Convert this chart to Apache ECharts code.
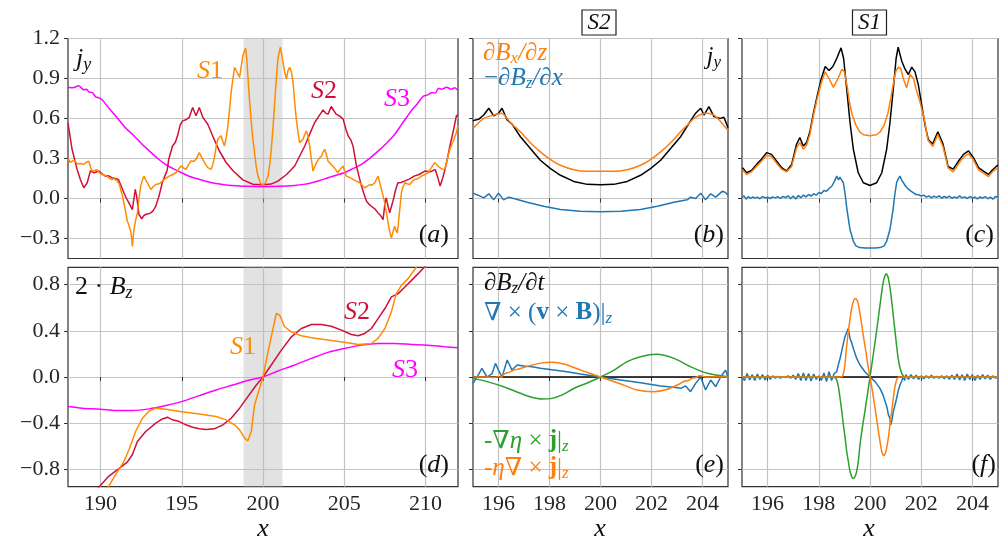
<!DOCTYPE html>
<html><head><meta charset="utf-8">
<script src="https://cdn.jsdelivr.net/npm/echarts@6/dist/echarts.min.js"></script>
<style>html,body{margin:0;padding:0;background:#fff}#c{width:1004px;height:542px}</style>
</head><body><div id="c"></div>
<script>
// ---------- tick values ----------
const xTicksLeft = [190, 195, 200, 205, 210];
const xTicksZoom = [196, 198, 200, 202, 204];
const yTicksTop = [-0.3, 0, 0.3, 0.6, 0.9, 1.2];
const yTicksBot = [-0.8, -0.4, 0, 0.4, 0.8];
const band = [198.8, 201.2];

// ---------- panel (a): j_y ----------
const aS3 = [[188,0.834],[188.3,0.83],[188.66,0.845],[188.97,0.815],[189.15,0.82],[189.28,0.80],[189.5,0.795],[189.7,0.762],[189.9,0.755],[190.1,0.74],[190.5,0.68],[191.1,0.595],[191.5,0.535],[191.96,0.482],[192.5,0.415],[193,0.357],[193.5,0.302],[194,0.256],[194.5,0.222],[195,0.193],[195.5,0.165],[196.1,0.143],[196.6,0.126],[197.1,0.113],[197.6,0.104],[198.1,0.098],[199,0.091],[200,0.088],[201,0.091],[201.95,0.098],[202.5,0.106],[203,0.118],[203.5,0.135],[204,0.156],[204.5,0.175],[205,0.193],[205.5,0.222],[206.06,0.256],[206.6,0.305],[207.1,0.357],[207.6,0.415],[208.1,0.48],[208.5,0.55],[208.9,0.62],[209.2,0.67],[209.5,0.71],[209.7,0.745],[209.9,0.77],[210.1,0.775],[210.4,0.795],[210.6,0.79],[210.8,0.826],[211.0,0.82],[211.3,0.834],[211.6,0.82],[211.8,0.83],[212,0.81]];
const aS2 = [[188,0.565],[188.25,0.369],[188.56,0.218],[188.76,0.143],[188.97,0.08],[189.18,0.118],[189.38,0.206],[189.6,0.193],[189.9,0.206],[190.1,0.185],[190.3,0.168],[190.5,0.17],[190.7,0.156],[190.9,0.15],[191.1,0.143],[191.25,0.1],[191.44,0.043],[191.6,0.0],[191.75,-0.033],[191.96,-0.083],[192.06,0.0],[192.14,0.068],[192.22,0.02],[192.37,-0.12],[192.54,-0.153],[192.65,-0.13],[192.78,-0.12],[192.95,-0.115],[193.1,-0.108],[193.25,-0.09],[193.4,-0.058],[193.6,0.018],[193.8,0.118],[194.0,0.181],[194.1,0.21],[194.2,0.294],[194.3,0.3],[194.43,0.394],[194.6,0.42],[194.74,0.47],[194.9,0.55],[195.05,0.582],[195.25,0.59],[195.46,0.608],[195.67,0.683],[195.88,0.62],[196.08,0.683],[196.3,0.608],[196.6,0.557],[196.9,0.47],[197.3,0.36],[197.73,0.27],[198.14,0.21],[198.76,0.14],[199.38,0.107],[200,0.103],[200.5,0.108],[200.92,0.13],[201.45,0.18],[201.95,0.244],[202.57,0.394],[202.9,0.49],[203.18,0.57],[203.45,0.62],[203.7,0.665],[203.85,0.64],[204,0.633],[204.2,0.69],[204.35,0.66],[204.5,0.633],[204.7,0.62],[204.93,0.595],[205.1,0.52],[205.24,0.47],[205.4,0.44],[205.54,0.394],[205.75,0.244],[205.9,0.17],[206.06,0.093],[206.2,0.04],[206.37,-0.02],[206.5,-0.04],[206.67,-0.058],[206.9,-0.08],[207.08,-0.108],[207.25,-0.13],[207.39,-0.158],[207.5,-0.04],[207.58,0.005],[207.7,-0.06],[207.8,-0.108],[207.9,-0.06],[208,-0.02],[208.15,0.06],[208.3,0.118],[208.5,0.12],[208.7,0.13],[209,0.145],[209.3,0.168],[209.6,0.18],[209.96,0.206],[210.3,0.2],[210.6,0.218],[210.75,0.16],[210.9,0.093],[211.05,0.15],[211.2,0.218],[211.35,0.3],[211.5,0.394],[211.7,0.5],[211.9,0.62],[212,0.63]];
const aS1 = [[188,0.3],[188.15,0.27],[188.3,0.285],[188.45,0.281],[188.55,0.26],[188.66,0.256],[188.8,0.262],[188.97,0.256],[189.1,0.27],[189.28,0.28],[189.4,0.23],[189.48,0.206],[189.6,0.22],[189.79,0.215],[189.95,0.19],[190.1,0.18],[190.25,0.175],[190.41,0.168],[190.55,0.15],[190.72,0.143],[190.85,0.15],[191.03,0.13],[191.15,0.11],[191.24,0.068],[191.35,0.02],[191.44,-0.033],[191.55,-0.1],[191.65,-0.17],[191.75,-0.2],[191.86,-0.246],[191.92,-0.3],[191.96,-0.36],[192.0,-0.3],[192.06,-0.233],[192.15,-0.17],[192.27,-0.108],[192.37,0.0],[192.47,0.093],[192.58,0.14],[192.68,0.168],[192.78,0.14],[192.89,0.118],[193.0,0.09],[193.09,0.068],[193.25,0.09],[193.4,0.105],[193.6,0.11],[193.81,0.13],[194.0,0.15],[194.23,0.168],[194.45,0.18],[194.64,0.193],[194.8,0.22],[194.95,0.244],[195.1,0.23],[195.26,0.218],[195.4,0.25],[195.57,0.281],[195.75,0.28],[195.88,0.294],[196.08,0.344],[196.18,0.32],[196.29,0.294],[196.45,0.26],[196.6,0.231],[196.8,0.218],[196.9,0.25],[197.01,0.306],[197.12,0.39],[197.22,0.444],[197.32,0.44],[197.42,0.47],[197.52,0.43],[197.63,0.394],[197.74,0.46],[197.84,0.545],[197.95,0.68],[198.04,0.796],[198.15,0.9],[198.25,0.984],[198.35,0.96],[198.45,0.947],[198.56,0.909],[198.66,0.99],[198.76,1.072],[198.85,1.1],[198.93,1.127],[199.0,1.05],[199.07,0.92],[199.17,0.74],[199.28,0.57],[199.38,0.44],[199.48,0.344],[199.58,0.24],[199.69,0.168],[199.85,0.115],[200,0.1],[200.15,0.118],[200.31,0.168],[200.42,0.26],[200.51,0.369],[200.62,0.54],[200.72,0.72],[200.82,0.9],[200.92,1.047],[201.0,1.1],[201.07,1.135],[201.15,1.08],[201.23,1.02],[201.33,0.95],[201.44,0.896],[201.54,0.96],[201.64,0.984],[201.75,0.95],[201.85,0.871],[201.95,0.72],[202.05,0.595],[202.15,0.5],[202.26,0.419],[202.36,0.43],[202.46,0.444],[202.57,0.48],[202.67,0.507],[202.77,0.47],[202.87,0.394],[202.97,0.3],[203.08,0.206],[203.18,0.24],[203.29,0.269],[203.45,0.3],[203.6,0.319],[203.7,0.35],[203.8,0.369],[203.9,0.33],[204,0.281],[204.15,0.26],[204.3,0.244],[204.45,0.22],[204.6,0.193],[204.75,0.22],[204.93,0.244],[205.03,0.2],[205.13,0.168],[205.3,0.16],[205.54,0.143],[205.75,0.13],[205.95,0.118],[206.1,0.1],[206.26,0.08],[206.4,0.09],[206.57,0.105],[206.7,0.1],[206.88,0.118],[207.0,0.15],[207.08,0.168],[207.18,0.12],[207.29,0.068],[207.39,0.02],[207.49,-0.033],[207.6,-0.11],[207.7,-0.183],[207.8,-0.25],[207.9,-0.296],[208.0,-0.25],[208.1,-0.208],[208.18,-0.24],[208.27,-0.258],[208.4,-0.1],[208.52,0.043],[208.62,0.09],[208.73,0.118],[208.88,0.11],[209.03,0.105],[209.2,0.13],[209.34,0.143],[209.55,0.15],[209.75,0.168],[209.95,0.18],[210.16,0.193],[210.35,0.23],[210.57,0.269],[210.72,0.25],[210.88,0.231],[211.05,0.22],[211.19,0.218],[211.35,0.3],[211.5,0.369],[211.7,0.43],[211.9,0.495],[212,0.55]];

// ---------- panel (d): 2*B_z ----------
const dS3 = [[188,-0.256],[188.87,-0.27],[190,-0.279],[190.93,-0.29],[191.96,-0.29],[192.99,-0.276],[194.02,-0.247],[195,-0.213],[196.08,-0.161],[197.11,-0.112],[198.14,-0.069],[199.18,-0.026],[200,0],[200.92,0.052],[201.95,0.104],[202.98,0.161],[204,0.213],[205,0.247],[206.06,0.276],[207.08,0.29],[208.1,0.29],[209.14,0.282],[210.16,0.276],[211.19,0.262],[212,0.253]];
const dS2 = [[189.8,-0.97],[190.5,-0.86],[191.13,-0.794],[191.65,-0.737],[191.96,-0.673],[192.27,-0.558],[192.78,-0.472],[193.4,-0.4],[193.81,-0.363],[194.12,-0.348],[194.43,-0.371],[194.85,-0.386],[195.26,-0.414],[195.67,-0.435],[196.08,-0.449],[196.5,-0.455],[197.0,-0.449],[197.53,-0.414],[198.04,-0.357],[198.56,-0.27],[199.07,-0.17],[199.59,-0.069],[200,0],[200.51,0.104],[201.13,0.233],[201.75,0.348],[202.36,0.42],[202.98,0.455],[203.6,0.455],[204.2,0.44],[204.83,0.406],[205.44,0.368],[205.85,0.357],[206.26,0.377],[206.67,0.42],[207.08,0.506],[207.5,0.593],[207.9,0.694],[208.32,0.722],[208.73,0.78],[209.14,0.837],[209.55,0.895],[210.05,0.97]];
const dS1 = [[190.4,-0.97],[190.93,-0.846],[191.44,-0.731],[191.75,-0.63],[192.16,-0.472],[192.58,-0.357],[192.99,-0.294],[193.4,-0.27],[194.02,-0.279],[195,-0.3],[196.08,-0.32],[197.11,-0.342],[197.73,-0.371],[198.25,-0.414],[198.56,-0.458],[198.87,-0.53],[199.07,-0.553],[199.28,-0.472],[199.48,-0.242],[199.79,-0.098],[200,0],[200.31,0.219],[200.62,0.42],[200.82,0.55],[201.03,0.535],[201.33,0.435],[201.75,0.391],[202.36,0.357],[202.98,0.34],[204,0.32],[205,0.3],[205.85,0.282],[206.67,0.29],[207.08,0.334],[207.5,0.42],[207.9,0.564],[208.2,0.722],[208.52,0.794],[208.93,0.852],[209.45,0.953],[209.6,0.98]];

// ---------- panel (b): S2 components ----------
const bJy = [[195,0.584],[195.22,0.594],[195.42,0.626],[195.62,0.677],[195.81,0.619],[196,0.639],[196.14,0.677],[196.34,0.589],[196.53,0.558],[196.86,0.463],[197.25,0.375],[197.64,0.287],[198.04,0.224],[198.43,0.174],[198.95,0.128],[199.48,0.106],[200,0.103],[200.52,0.106],[201.05,0.128],[201.57,0.174],[201.96,0.224],[202.36,0.287],[202.75,0.375],[203.14,0.463],[203.47,0.564],[203.73,0.64],[203.93,0.677],[204.06,0.626],[204.25,0.689],[204.45,0.614],[204.7,0.601],[204.84,0.61],[205,0.53]];
const bDxz = [[195,0.526],[195.42,0.601],[195.81,0.626],[196.14,0.639],[196.47,0.568],[196.86,0.5],[197.25,0.418],[197.64,0.35],[198.04,0.292],[198.43,0.249],[198.95,0.216],[199.48,0.204],[200,0.204],[200.52,0.204],[201.05,0.216],[201.57,0.249],[201.96,0.292],[202.36,0.35],[202.75,0.418],[203.14,0.5],[203.4,0.55],[203.66,0.6],[203.93,0.63],[204.19,0.639],[204.45,0.626],[204.7,0.58],[205,0.51]];
const bDzx = [[195,0.04],[195.22,0.023],[195.42,0.005],[195.62,0.035],[195.81,-0.01],[196,0.04],[196.2,-0.01],[196.4,0.01],[196.6,0.0],[197.12,-0.028],[197.77,-0.058],[198.43,-0.083],[199.2,-0.096],[200,-0.1],[200.8,-0.096],[201.57,-0.083],[202.23,-0.058],[202.88,-0.028],[203.4,-0.01],[203.53,0.01],[203.73,0.0],[203.93,0.04],[204.12,-0.01],[204.32,0.035],[204.52,0.01],[204.78,0.055],[204.9,0.045],[205,0.025]];

// ---------- panel (c): S1 components ----------
const cJy = [[195.02,0.231],[195.18,0.193],[195.37,0.21],[195.57,0.256],[195.76,0.294],[195.96,0.344],[196.15,0.331],[196.35,0.281],[196.55,0.231],[196.74,0.206],[196.94,0.256],[197.13,0.407],[197.26,0.457],[197.39,0.394],[197.52,0.419],[197.65,0.5],[197.8,0.65],[197.95,0.78],[198.1,0.9],[198.25,0.99],[198.4,0.96],[198.55,0.99],[198.7,1.05],[198.87,1.13],[198.97,1.05],[199.09,0.821],[199.22,0.57],[199.35,0.369],[199.54,0.193],[199.74,0.118],[200,0.098],[200.26,0.118],[200.46,0.193],[200.65,0.369],[200.78,0.57],[200.91,0.821],[201.02,1.05],[201.1,1.135],[201.24,1.03],[201.37,0.97],[201.5,0.93],[201.63,0.985],[201.76,0.95],[201.89,0.85],[202.02,0.7],[202.15,0.55],[202.28,0.44],[202.45,0.41],[202.65,0.5],[202.85,0.41],[203.05,0.24],[203.25,0.22],[203.46,0.281],[203.65,0.331],[203.85,0.357],[204.04,0.306],[204.24,0.231],[204.43,0.206],[204.63,0.181],[204.76,0.21],[204.95,0.244],[205,0.25]];
const cDxz = [[195.02,0.215],[195.18,0.18],[195.37,0.2],[195.57,0.24],[195.76,0.28],[195.96,0.325],[196.15,0.315],[196.35,0.265],[196.55,0.22],[196.74,0.2],[196.94,0.24],[197.13,0.38],[197.26,0.42],[197.39,0.37],[197.52,0.4],[197.65,0.48],[197.8,0.63],[197.95,0.76],[198.1,0.87],[198.25,0.95],[198.4,0.9],[198.57,0.834],[198.75,0.9],[198.9,0.97],[199.0,0.95],[199.1,0.85],[199.2,0.72],[199.3,0.63],[199.45,0.55],[199.6,0.5],[199.75,0.478],[200,0.47],[200.25,0.478],[200.4,0.5],[200.55,0.55],[200.7,0.64],[200.8,0.74],[200.9,0.85],[201.0,0.95],[201.1,0.984],[201.2,0.975],[201.3,0.9],[201.43,0.83],[201.56,0.93],[201.7,0.9],[201.8,0.82],[201.93,0.74],[202.13,0.59],[202.26,0.44],[202.45,0.39],[202.65,0.48],[202.85,0.39],[203.05,0.23],[203.25,0.2],[203.46,0.26],[203.65,0.31],[203.85,0.335],[204.04,0.29],[204.24,0.215],[204.43,0.19],[204.63,0.165],[204.76,0.195],[204.95,0.225],[205,0.23]];
const cDzx = [[195.0,0.005],[195.08,0.02],[195.16,-0.005],[195.25,0.015],[195.33,0.0],[195.42,0.012],[195.5,0.003],[195.6,0.01],[195.7,-0.002],[195.8,0.015],[195.9,0.004],[196.0,0.01],[196.1,0.0],[196.2,0.012],[196.3,0.005],[196.4,0.014],[196.5,0.0],[196.6,0.016],[196.7,0.006],[196.8,0.02],[196.9,-0.002],[197.0,0.018],[197.1,-0.004],[197.2,0.022],[197.3,0.006],[197.4,0.026],[197.5,0.012],[197.6,0.03],[197.7,0.018],[197.8,0.036],[197.9,0.025],[198.0,0.045],[198.1,0.038],[198.2,0.06],[198.3,0.055],[198.4,0.075],[198.5,0.09],[198.6,0.125],[198.7,0.168],[198.77,0.14],[198.83,0.16],[198.9,0.135],[198.96,0.118],[199.03,0.03],[199.1,-0.083],[199.22,-0.233],[199.35,-0.321],[199.45,-0.355],[199.6,-0.368],[199.8,-0.372],[200,-0.372],[200.2,-0.372],[200.4,-0.368],[200.55,-0.355],[200.65,-0.321],[200.78,-0.233],[200.9,-0.083],[200.97,0.03],[201.04,0.12],[201.1,0.145],[201.17,0.168],[201.23,0.14],[201.3,0.125],[201.4,0.09],[201.5,0.07],[201.6,0.055],[201.7,0.042],[201.8,0.03],[201.9,0.028],[202.0,0.018],[202.1,0.025],[202.2,0.01],[202.3,0.02],[202.4,0.005],[202.5,0.018],[202.6,0.008],[202.7,0.02],[202.8,0.003],[202.9,0.015],[203.0,0.006],[203.1,0.018],[203.2,0.002],[203.3,0.012],[203.4,0.004],[203.5,0.02],[203.6,0.005],[203.7,0.012],[203.8,0.0],[203.9,0.015],[204.0,0.005],[204.1,0.01],[204.2,-0.003],[204.3,0.012],[204.4,0.002],[204.5,0.015],[204.6,-0.002],[204.7,0.01],[204.8,-0.005],[204.9,0.015],[205.0,0.01]];

// ---------- panel (e): S2 induction terms ----------
const eDt = [[195,0],[205,0]];
const eCurlVB = [[195,-0.055],[195.16,0.0],[195.35,0.075],[195.55,0.0],[195.75,0.03],[195.88,0.118],[196,0.06],[196.14,0.0],[196.34,0.147],[196.53,0.06],[196.73,0.104],[196.99,0.095],[197.32,0.089],[197.64,0.075],[198.17,0.06],[198.69,0.045],[199.21,0.026],[200,0],[200.79,-0.026],[201.57,-0.049],[202.36,-0.078],[202.88,-0.089],[203.14,-0.098],[203.34,-0.078],[203.53,-0.127],[203.73,-0.055],[203.93,0.0],[204.12,-0.112],[204.32,-0.026],[204.52,-0.084],[204.71,0.0],[204.9,0.06],[205,0.0]];
const eGradEta = [[195,-0.012],[195.55,-0.04],[196.2,-0.084],[196.86,-0.141],[197.3,-0.175],[197.7,-0.19],[198.1,-0.185],[198.5,-0.155],[198.95,-0.1],[199.5,-0.05],[200,0],[200.5,0.055],[201.05,0.133],[201.57,0.176],[202.2,0.196],[202.88,0.161],[203.53,0.089],[204.19,0.032],[205,0.003]];
const eEtaCurl = [[195,0],[195.5,0.0],[195.8,-0.005],[196,0.003],[196.1,-0.005],[196.2,0.025],[196.4,0.04],[196.6,0.06],[196.8,0.07],[197.1,0.09],[197.6,0.118],[198.1,0.127],[198.6,0.11],[199.2,0.062],[200,0],[200.8,-0.06],[201.4,-0.11],[202.05,-0.127],[202.6,-0.108],[203.1,-0.06],[203.3,-0.035],[203.45,-0.03],[203.6,-0.01],[203.75,-0.005],[203.9,0.012],[204.1,0.0],[204.5,0.002],[205,0]];

// ---------- panel (f): S1 induction terms ----------
const fDt = [[195,0],[205,0]];
const fCurlVB = [[195.0,0.0],[195.1,-0.03],[195.2,0.03],[195.3,-0.025],[195.4,0.02],[195.5,-0.03],[195.6,0.025],[195.7,-0.02],[195.8,0.02],[195.9,-0.025],[196.0,0.015],[196.1,-0.02],[196.2,0.01],[196.3,-0.01],[196.4,0.005],[196.5,-0.01],[196.6,0.0],[196.7,-0.005],[196.8,0.01],[196.9,-0.01],[197.0,0.015],[197.1,-0.02],[197.2,0.03],[197.3,-0.03],[197.4,0.035],[197.5,-0.03],[197.6,0.03],[197.7,-0.035],[197.8,0.025],[197.9,-0.02],[198.0,0.01],[198.1,-0.03],[198.2,0.035],[198.3,-0.04],[198.4,0.045],[198.5,-0.03],[198.6,0.03],[198.7,0.046],[198.76,0.104],[198.83,0.16],[198.89,0.219],[198.95,0.28],[199.02,0.348],[199.08,0.36],[199.15,0.42],[199.22,0.334],[199.28,0.3],[199.35,0.247],[199.48,0.161],[199.61,0.104],[199.8,0.046],[200,0],[200.2,-0.04],[200.39,-0.098],[200.5,-0.15],[200.59,-0.213],[200.66,-0.26],[200.72,-0.328],[200.78,-0.36],[200.81,-0.414],[200.86,-0.37],[200.91,-0.3],[200.98,-0.24],[201.04,-0.184],[201.1,-0.12],[201.17,-0.069],[201.25,-0.03],[201.3,0.01],[201.35,-0.03],[201.4,0.02],[201.5,-0.02],[201.6,0.02],[201.7,-0.015],[201.8,0.015],[201.9,-0.02],[202.0,0.01],[202.1,-0.015],[202.2,0.01],[202.3,-0.01],[202.4,0.015],[202.5,-0.01],[202.6,0.005],[202.7,-0.01],[202.8,0.01],[202.9,-0.015],[203.0,0.01],[203.1,-0.02],[203.2,0.015],[203.3,-0.02],[203.4,0.025],[203.5,-0.025],[203.6,0.02],[203.7,-0.03],[203.8,0.025],[203.9,-0.02],[204.0,0.02],[204.1,-0.03],[204.2,0.015],[204.3,-0.02],[204.4,0.02],[204.5,-0.015],[204.6,0.015],[204.7,-0.02],[204.8,0.01],[204.9,-0.01],[205.0,0.0]];
const fGradEta = [[195,0],[198.57,0],[198.64,-0.008],[198.7,-0.026],[198.77,-0.09],[198.83,-0.184],[198.9,-0.3],[198.96,-0.414],[199.03,-0.53],[199.09,-0.645],[199.16,-0.74],[199.22,-0.817],[199.29,-0.865],[199.35,-0.88],[199.42,-0.86],[199.48,-0.817],[199.55,-0.72],[199.61,-0.587],[199.7,-0.44],[199.8,-0.3],[199.9,-0.15],[200,0],[200.1,0.15],[200.2,0.305],[200.3,0.47],[200.39,0.622],[200.46,0.74],[200.52,0.823],[200.58,0.875],[200.63,0.895],[200.68,0.88],[200.72,0.852],[200.79,0.76],[200.85,0.65],[200.92,0.51],[200.98,0.391],[201.04,0.27],[201.1,0.161],[201.17,0.08],[201.24,0.032],[201.3,0.008],[201.37,0],[205,0]];
const fEtaCurl = [[195,0],[198.89,0],[198.95,0.02],[199.02,0.104],[199.08,0.25],[199.15,0.391],[199.22,0.5],[199.28,0.593],[199.35,0.655],[199.41,0.679],[199.48,0.67],[199.54,0.636],[199.6,0.56],[199.67,0.463],[199.75,0.34],[199.84,0.219],[199.92,0.1],[200,0],[200.08,-0.1],[200.16,-0.213],[200.25,-0.35],[200.33,-0.472],[200.4,-0.57],[200.46,-0.645],[200.5,-0.672],[200.55,-0.679],[200.6,-0.66],[200.65,-0.616],[200.72,-0.52],[200.78,-0.414],[200.85,-0.29],[200.91,-0.184],[200.97,-0.09],[201.04,-0.026],[201.12,0],[205,0]];

// ---------- styling ----------
const SERIF = "Liberation Serif, DejaVu Serif, serif";
const C_S1 = '#ff8c00', C_S2 = '#d0103a', C_S3 = '#ff00ff';
const C_OR = '#ff7f0e', C_BL = '#1f77b4', C_GR = '#2ca02c', C_BK = '#000000';
const GRIDC = '#c4c4c4';

function fmtY(v){ const s = Math.abs(v).toFixed(1); return (v < -1e-9 ? '\u2212' : '') + s; }

const grids = [
  {left:68, top:38.5, width:390, height:220},
  {left:473, top:38.5, width:255, height:220},
  {left:742, top:38.5, width:256, height:220},
  {left:68, top:267.3, width:390, height:219.4},
  {left:473, top:267.3, width:255, height:219.4},
  {left:742, top:267.3, width:256, height:219.4}
].map(g => Object.assign(g, {show:true, borderColor:'#333', borderWidth:1.2, backgroundColor:'transparent', containLabel:false}));

function xAx(gi, min, max, ticks, showLabel){
  return {type:'value', gridIndex:gi, min, max,
    axisLine:{show:false},
    axisTick:{show:true, inside:false, length:4, customValues:ticks, lineStyle:{color:'#333', width:1}},
    axisLabel:{show:showLabel, customValues:ticks, margin:7, color:'#262626', fontSize:22, fontFamily:SERIF, formatter:v=>String(Math.round(v))},
    splitLine:{show:true, lineStyle:{color:GRIDC, width:1.2}}};
}
function yAx(gi, min, max, ticks, showLabel){
  return {type:'value', gridIndex:gi, min, max,
    axisLine:{show:false},
    axisTick:{show:true, inside:false, length:4, customValues:ticks, lineStyle:{color:'#333', width:1}},
    axisLabel:{show:showLabel, customValues:ticks, margin:8, color:'#262626', fontSize:22, fontFamily:SERIF, formatter:fmtY},
    splitLine:{show:true, lineStyle:{color:GRIDC, width:1.2}}};
}

const xAxes = [
  xAx(0,188,212,xTicksLeft,false), xAx(1,195,205,xTicksZoom,false), xAx(2,195,205,xTicksZoom,false),
  xAx(3,188,212,xTicksLeft,true), xAx(4,195,205,xTicksZoom,true), xAx(5,195,205,xTicksZoom,true)
];
const yAxes = [
  yAx(0,-0.45,1.2,yTicksTop,true), yAx(1,-0.45,1.2,yTicksTop,false), yAx(2,-0.45,1.2,yTicksTop,false),
  yAx(3,-0.95,0.95,yTicksBot,true), yAx(4,-0.95,0.95,yTicksBot,false), yAx(5,-0.95,0.95,yTicksBot,false)
];

function ln(gi, data, color, extra){
  return Object.assign({type:'line', xAxisIndex:gi, yAxisIndex:gi, data, showSymbol:false, symbol:'none',
    lineStyle:{color, width:1.5}, itemStyle:{color}, animation:false, silent:true, z:3, clip:true}, extra||{});
}
function bandSeries(gi){
  return {type:'line', xAxisIndex:gi, yAxisIndex:gi, data:[[200,0]], showSymbol:false, symbol:'none',
    lineStyle:{opacity:0}, silent:true, animation:false, z:1,
    markArea:{silent:true, itemStyle:{color:'rgba(185,185,185,0.42)'}, data:[[{xAxis:band[0]},{xAxis:band[1]}]]}};
}

const series = [
  bandSeries(0), bandSeries(3),
  ln(0, aS3, C_S3, {smooth:0.2}), ln(0, aS2, C_S2), ln(0, aS1, C_S1),
  ln(3, dS3, C_S3, {smooth:0.3}), ln(3, dS2, C_S2), ln(3, dS1, C_S1),
  ln(1, bJy, C_BK), ln(1, bDxz, C_OR, {smooth:0.2}), ln(1, bDzx, C_BL),
  ln(2, cJy, C_BK), ln(2, cDxz, C_OR), ln(2, cDzx, C_BL),
  ln(4, eDt, C_BK), ln(4, eCurlVB, C_BL), ln(4, eGradEta, C_GR, {smooth:0.3}), ln(4, eEtaCurl, C_OR, {smooth:0.2}),
  ln(5, fDt, C_BK), ln(5, fCurlVB, C_BL), ln(5, fGradEta, C_GR, {smooth:0.2}), ln(5, fEtaCurl, C_OR, {smooth:0.2})
];

// ---------- math-style text labels ----------
function richSet(size, color){
  const base = {fontFamily:SERIF, fill:color, fontSize:size, lineHeight:size+4};
  return {
    m: Object.assign({}, base, {fontStyle:'italic'}),
    r: Object.assign({}, base),
    b: Object.assign({}, base, {fontWeight:'bold'}),
    s: {fontFamily:SERIF, fill:color, fontSize:Math.round(size*0.68), fontStyle:'italic', lineHeight:12, verticalAlign:'bottom'}
  };
}
function T(x, y, text, size, color, align){
  return {type:'text', x, y, z:100, silent:true,
    style:{text, rich:richSet(size, color), fill:color, fontFamily:SERIF, fontSize:size, align:align||'left', verticalAlign:'middle'}};
}
function boxTitle(cx, cy, text){
  return {type:'group', children:[
    {type:'rect', shape:{x:cx-17, y:cy-12.5, width:34, height:25}, style:{fill:'#fff', stroke:'#222', lineWidth:1.2}, z:100},
    {type:'text', x:cx, y:cy, z:101, style:{text, fill:'#111', fontFamily:SERIF, fontStyle:'italic', fontSize:23, align:'center', verticalAlign:'middle'}}
  ]};
}

const graphics = [
  boxTitle(599, 22.5, 'S2'), boxTitle(869.5, 22.5, 'S1'),
  // panel a
  T(76, 59, '{m|j}{s|y}', 26, '#111'),
  T(197, 71, '{m|S}{r|1}', 26, C_S1),
  T(311, 91, '{m|S}{r|2}', 26, C_S2),
  T(384, 99, '{m|S}{r|3}', 26, C_S3),
  T(449, 235.5, '{r|(}{m|a}{r|)}', 26, '#111', 'right'),
  // panel d
  T(75, 287, '{r|2 · }{m|B}{s|z}', 26, '#111'),
  T(230, 347, '{m|S}{r|1}', 26, C_S1),
  T(344, 312, '{m|S}{r|2}', 26, C_S2),
  T(392, 370, '{m|S}{r|3}', 26, C_S3),
  T(449, 465.5, '{r|(}{m|d}{r|)}', 26, '#111', 'right'),
  // panel b
  T(483, 53, '{m|∂B}{s|x}{m|/∂z}', 25, C_OR),
  T(484, 78, '{r|−}{m|∂B}{s|z}{m|/∂x}', 25, C_BL),
  T(721, 57, '{m|j}{s|y}', 25, '#111', 'right'),
  T(724, 235.5, '{r|(}{m|b}{r|)}', 26, '#111', 'right'),
  // panel c
  T(994, 235.5, '{r|(}{m|c}{r|)}', 26, '#111', 'right'),
  // panel e
  T(484, 283, '{m|∂B}{s|z}{m|/∂t}', 25, '#111'),
  T(484, 313, '{r|∇ × (}{b|v}{r| × }{b|B}{r|)|}{s|z}', 25, C_BL),
  T(484, 441, '{r|-∇}{m|η}{r| × }{b|j}{r||}{s|z}', 25, C_GR),
  T(484, 468, '{r|-}{m|η}{r|∇ × }{b|j}{r||}{s|z}', 25, C_OR),
  T(724, 465.5, '{r|(}{m|e}{r|)}', 26, '#111', 'right'),
  // panel f
  T(996, 465.5, '{r|(}{m|f}{r|)}', 26, '#111', 'right'),
  // x-axis titles
  T(263, 529, '{m|x}', 26, '#111', 'center'),
  T(600, 529, '{m|x}', 26, '#111', 'center'),
  T(869, 529, '{m|x}', 26, '#111', 'center')
];

const chart = echarts.init(document.getElementById('c'), null, {renderer:'canvas', width:1004, height:542});
chart.setOption({
  animation:false,
  backgroundColor:'#ffffff',
  grid: grids,
  xAxis: xAxes,
  yAxis: yAxes,
  series: series,
  graphic: graphics
});
</script></body></html>
